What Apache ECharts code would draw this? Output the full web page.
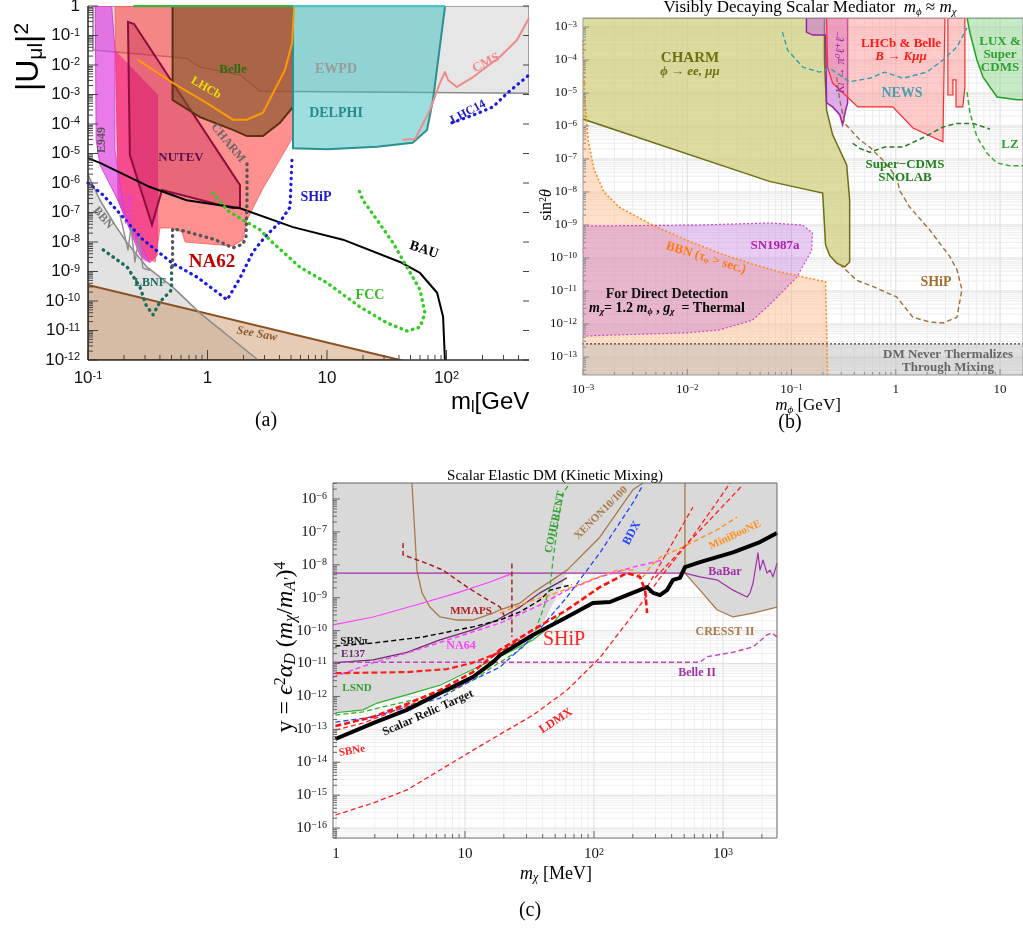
<!DOCTYPE html>
<html><head><meta charset="utf-8">
<script src="https://cdn.jsdelivr.net/npm/echarts@6/dist/echarts.min.js"></script>
<style>html,body{margin:0;padding:0;background:#fff}#c{width:1023px;height:936px}</style>
</head><body><div id="c"></div>
<script>
// ================= Panel (a): |U_mu l|^2 vs m_l [GeV] =================
const aEWPD = [[0.11,1],[0.11,3.2e-2],[0.33,2.2e-2],[0.67,1.7e-2],[0.86,8.5e-3],[1.87,4.6e-3],[2.75,1.3e-3],[490,1.1e-3],[490,1]];
const aBBNregion = [[0.1,1.9e-6],[0.126,2.6e-7],[0.168,3.8e-8],[0.213,9.3e-9],[0.312,1.4e-9],[0.51,3e-10],[0.865,3.9e-11],[2.65,1e-12],[0.1,1e-12]];
const aSeeSaw = [[0.1,3.5e-10],[40.8,1e-12],[0.1,1e-12]];
const aNA62 = [[0.168,1],[5.19,1],[5.19,3.6e-5],[2.86,5.8e-7],[2.14,5.6e-8],[1.98,1.2e-8],[1.63,7.3e-9],[0.65,1e-8],[0.61,2.2e-8],[0.5,3e-8],[0.4,3e-8],[0.364,2.1e-9],[0.288,3.6e-9],[0.178,2.6e-7]];
const aPS191 = [[0.168,3.2e-2],[0.386,9.6e-4],[0.386,3.6e-9],[0.33,1.9e-9],[0.288,2.5e-9],[0.178,2.6e-7]];
const aE949 = [[0.115,1],[0.158,1],[0.168,3.2e-2],[0.168,1.3e-5],[0.204,8.3e-8],[0.33,2.1e-9],[0.272,3.6e-9],[0.178,2.6e-7],[0.126,4.1e-6],[0.117,2.9e-5]];
const aNUTEV = [[0.216,0.29],[0.243,0.245],[1.87,8.5e-7],[1.87,1.5e-7],[1.63,1.4e-7],[0.416,5.8e-7],[0.343,3.8e-8],[0.224,8.9e-6]];
const aBelle = [[0.51,1],[5.19,1],[5.19,3.8e-4],[4.04,1.1e-4],[2.91,3.9e-5],[2.14,3.9e-5],[1.63,6.3e-5],[0.865,1.7e-4],[0.51,6.5e-4]];
const aDELPHI = [[5.19,1],[5.19,1.5e-5],[10,1.4e-5],[26.2,1.7e-5],[52,2.3e-5],[68.7,6.3e-5],[77,6.5e-4],[97,0.92],[97,1]];
const aLHCb = [[0.262,1.5e-2],[0.51,2.5e-3],[0.99,5.1e-4],[1.63,1.4e-4],[2.14,1.4e-4],[2.91,2.4e-4],[3.47,9.6e-4],[4.45,6.8e-3],[5.1,5.6e-2],[5.3,0.92]];
const aCMS = [[43,2.9e-5],[54.5,3.1e-5],[72.8,3e-4],[88.3,2.5e-3],[97,5.8e-3],[103,3.1e-3],[122,1.8e-3],[167,3.9e-3],[280,1.9e-2],[389,7e-2],[490,0.39]];
const aLHC14 = [[111,1.1e-4],[167,2e-4],[245,3.8e-4],[321,1.1e-3],[437,3.1e-3],[490,4.6e-3]];
const aSHiP = [[0.1,1e-6],[0.134,3.9e-7],[0.196,7e-8],[0.288,1.2e-8],[0.51,1.9e-9],[0.817,6.5e-10],[1.46,1.1e-10],[1.87,6e-10],[2.4,4.6e-9],[3.03,1.5e-8],[4.04,4.8e-8],[4.9,1.5e-7],[5.1,7.6e-6]];
const aFCC = [[1.11,4.6e-7],[1.46,1.2e-7],[1.98,5.6e-8],[2.75,2.6e-8],[3.53,9.3e-9],[5.94,1.4e-9],[10,4.1e-10],[18.9,6.3e-11],[31.8,1.8e-11],[46.7,9.6e-12],[60,1.3e-11],[66,3.9e-11],[60,2.4e-10],[46.7,1.4e-9],[35.7,9.3e-9],[26.2,5.6e-8],[20,2.6e-7],[18.2,6.8e-7]];
const aBAU = [[0.1,7e-6],[0.126,4.8e-6],[0.33,7.3e-7],[0.67,2.6e-7],[1.87,1.4e-7],[5.19,3.2e-8],[13.6,1.2e-8],[40.8,2.1e-9],[60,8.9e-10],[83.4,1.9e-10],[93.6,2.9e-11],[97,1e-12]];
const aBBN1 = [[0.1,1.9e-6],[0.126,2.6e-7],[0.168,3.8e-8],[0.213,9.3e-9],[0.312,1.4e-9],[0.51,3e-10],[0.865,3.9e-11],[2.65,1e-12]];
const aBBN2 = [[0.185,8.3e-8],[0.216,5.4e-9],[0.229,3e-8],[0.247,2.1e-9],[0.267,1.4e-8],[0.288,1.3e-9],[0.33,1.1e-9]];
const aLBNF = [[0.134,5.4e-9],[0.213,1.4e-9],[0.272,3e-10],[0.306,7.3e-11],[0.35,3.4e-11],[0.4,9.3e-11],[0.5,2.4e-10],[0.5,1.8e-9]];
const aNA62fut = [[0.51,1.5e-9],[0.51,2.8e-8],[0.624,2.4e-8],[1.16,1.2e-8],[1.63,6.3e-9],[1.98,8.5e-9],[2.1,1.5e-8],[2.14,2.6e-7],[2.14,6e-6]];
const aTopGreen = [[0.24,1],[5.19,1]];
const aTopTeal = [[5.19,1],[97,1]];
const aTickX = [0.1, 1, 10, 100];
const aTickY = [1,1e-1,1e-2,1e-3,1e-4,1e-5,1e-6,1e-7,1e-8,1e-9,1e-10,1e-11,1e-12];

// ================= Panel (b): sin^2 theta vs m_phi [GeV] =================
const bCHARM = [[0.00098,1.9e-3],[0.207,1.9e-3],[0.207,1e-4],[0.217,3e-6],[0.248,5.4e-7],[0.338,6.6e-8],[0.361,5.8e-9],[0.361,7.6e-11],[0.324,5.4e-11],[0.271,7e-11],[0.232,1.2e-10],[0.212,2.5e-10],[0.199,9.3e-9],[0.0614,2.1e-8],[0.00098,1.65e-6]];
const bBBN = [[0.001,4e-4],[1.04e-3,6.2e-6],[1.12e-3,3.8e-7],[1.28e-3,4.7e-8],[1.59e-3,1e-8],[2.22e-3,3.5e-9],[4.6e-3,1e-9],[9.8e-3,3.5e-10],[2.03e-2,1.4e-10],[4.2e-2,6.6e-11],[7.7e-2,3.8e-11],[0.212,1.9e-11],[0.222,2.85e-14]];
const bBBNfill = bBBN.concat([[0.00098,2.85e-14],[0.00098,4e-4]]);
const bSN = [[0.001,9.3e-10],[0.013,1e-9],[0.0614,1.15e-9],[0.128,1e-9],[0.159,5.7e-10],[0.156,1.7e-10],[0.112,2.6e-11],[0.0614,3.8e-12],[0.042,1.3e-12],[0.0203,6.6e-13],[9.8e-3,5.4e-13],[2.22e-3,4.7e-13],[0.001,4.3e-13]];
const bLHCb = [[0.217,1.9e-3],[0.222,6.1e-5],[0.248,2e-5],[0.432,3.8e-6],[0.936,3.8e-6],[1.46,8.7e-7],[2.83,3.3e-7],[2.96,1.9e-3]];
const bLHCb2 = [[3.16,1.9e-3],[3.16,8.7e-6],[3.53,8.7e-6],[3.53,2.5e-5],[3.78,2.5e-5],[3.78,3.8e-6],[4.4,3.8e-6],[4.6,1.5e-5],[4.6,1.9e-3]];
const bKL = [[0.139,1.9e-3],[0.139,7e-4],[0.159,5.7e-4],[0.212,5.7e-4],[0.217,5e-6],[0.248,3.8e-6],[0.29,2.2e-6],[0.309,1.1e-6],[0.33,3e-6],[0.345,5e-6],[0.345,1.9e-3]];
const bLUX = [[4.82,1.9e-3],[5.15,6.6e-4],[6.0,1e-4],[6.87,3e-5],[9.35,7.6e-6],[14.6,6.2e-6],[17,6.2e-6],[17,1.9e-3]];
const bNEWS = [[0.0818,7e-4],[0.0917,2e-4],[0.128,6.1e-5],[0.186,4.3e-5],[0.232,5.7e-5],[0.271,4e-5],[0.361,2.2e-5],[0.562,2.8e-5],[0.783,4.3e-5],[1.17,2.8e-5],[1.99,4.3e-5],[2.83,1e-4],[3.86,2.5e-4],[4.82,9.3e-4]];
const bSCDMS = [[0.386,3e-7],[0.451,2.1e-7],[0.562,1.6e-7],[0.783,2.3e-7],[1.17,2.3e-7],[1.82,4.4e-7],[2.83,9.3e-7],[3.86,1.2e-6],[5.5,1.2e-6],[8.0,8.1e-7]];
const bLZ = [[4.82,1.07e-5],[5.15,2.5e-6],[6.0,4.7e-7],[7.5,1.5e-7],[9.35,7.6e-8],[12.5,6.2e-8],[17,6.2e-8]];
const bSHiP = [[0.271,3e-5],[0.29,6.2e-6],[0.324,1.2e-6],[0.451,3.8e-7],[0.562,2.3e-7],[0.75,9.3e-8],[1.02,2.8e-8],[1.09,1.1e-8],[1.36,3.5e-9],[2.12,7e-10],[3.3,1.1e-10],[3.86,4.4e-11],[4.31,1.1e-11],[3.86,1.6e-12],[2.83,1.07e-12],[2.12,1.15e-12],[1.46,1.6e-12],[1.02,6.6e-12],[0.562,1.5e-11],[0.422,2.1e-11],[0.309,5.4e-11],[0.271,7.6e-11]];
const bDMband = [[0.00098,2.5e-13],[17,2.5e-13],[17,2.85e-14],[0.00098,2.85e-14]];
const bDMline = [[0.00098,2.5e-13],[17,2.5e-13]];
const bTickX = [1e-3, 1e-2, 1e-1, 1, 10];
const bTickY = [1e-3,1e-4,1e-5,1e-6,1e-7,1e-8,1e-9,1e-10,1e-11,1e-12,1e-13];

// ================= Panel (c): y vs m_chi [MeV] =================
const cGray = [[0.948,3.06e-6],[0.948,3.2e-13],[1.45,3.4e-13],[2.08,5.9e-13],[3.95,1.26e-12],[6.4,2.4e-12],[10.4,5.9e-12],[16.5,1.5e-11],[26.7,3.6e-11],[38.1,1.05e-10],[45.6,4.3e-10],[54.5,1.7e-9],[61.8,5.6e-9],[507,5.6e-9],[663,1.7e-9],[898,4.3e-10],[1196,2.6e-10],[1710,3.4e-10],[2622,5.2e-10],[2622,3.06e-6]];
const cXENON = [[3.88,3.06e-6],[4.24,6.9e-9],[4.64,1.4e-9],[5.35,5.2e-10],[6.4,2.6e-10],[8.67,2.1e-10],[11.5,2.1e-10],[16.5,3.4e-10],[18.7,4.3e-10],[26.7,6.9e-10],[33.6,1.4e-9],[61.8,6.9e-9],[111,6.9e-8],[200,1.9e-6],[240,3.06e-6]];
const cCRESST = [[507,3.06e-6],[507,5.6e-9],[663,1.7e-9],[898,4.3e-10],[1196,2.6e-10],[1710,3.4e-10],[2622,5.2e-10]];
const cMMAPS = [[3.31,4.6e-8],[3.31,2e-8],[5.07,1.1e-8],[6.75,6.9e-9],[10.4,2.1e-9],[13.8,1.05e-9],[18.7,5.2e-10],[20.4,2.6e-10]];
const cMMAPSv = [[23.1,1.1e-8],[23.1,6.4e-11]];
const cBaBar = [[0.948,5.6e-9],[507,5.6e-9],[663,4.3e-9],[898,3.5e-9],[1196,1.7e-9],[1535,1.05e-9],[1620,1.4e-9],[1710,2.8e-9],[1867,2.3e-8],[1935,6.9e-9],[2042,1.4e-8],[2193,5.6e-9],[2314,6.9e-9],[2443,4.3e-9],[2622,1.1e-8]];
const cMagenta = [[0.948,1.5e-10],[1.94,2.6e-10],[4.72,6.9e-10],[8.67,1.4e-9],[15.6,3e-9],[23.6,5.6e-9]];
const cSBNpi = [[0.99,3.4e-11],[1.94,4.2e-11],[4.72,6.4e-11],[11.5,1.3e-10],[18.7,2.1e-10],[26.7,3.7e-10],[38.1,8.5e-10],[45.6,1.7e-9],[67.5,2.5e-9]];
const cE137 = [[0.948,1.05e-11],[1.94,1.3e-11],[3.55,2.2e-11],[6.4,5.2e-11],[11.5,1.05e-10],[17.7,2.1e-10],[26.7,5.2e-10],[38.1,1.4e-9],[61.8,4e-9]];
const cBelle2 = [[0.948,1.1e-11],[663,1.1e-11],[751,1.6e-11],[1196,2.2e-11],[1710,3.2e-11],[2193,7.4e-11],[2400,8.5e-11],[2622,6.4e-11]];
const cNA64 = [[0.948,3.9e-12],[1.94,1.05e-11],[3.55,2.1e-11],[8.67,6.4e-11],[18.7,1.7e-10],[38.1,6e-10],[61.8,1.7e-9],[111,4.3e-9],[200,8.5e-9],[343,1.4e-8]];
const cLSND = [[0.99,3.2e-13],[1.62,3.9e-13],[2.08,6.3e-13],[3.95,1.26e-12],[6.4,2.2e-12],[10.4,5.5e-12],[18.7,1.6e-11],[33.6,5.2e-11],[45.6,1.3e-10],[54.5,3e-10]];
const cCOHERENT = [[0.99,2.7e-13],[1.62,3.4e-13],[2.31,4.8e-13],[3.95,7.8e-13],[7.25,1.36e-12],[11.5,3.2e-12],[18.7,1.1e-11],[26.7,2.6e-11],[33.6,6.4e-11],[40.2,4.3e-10],[45.6,2.1e-9],[48.1,1.4e-8],[52.6,1.9e-7],[57.5,1.5e-6],[65.2,3.06e-6]];
const cBDX = [[0.99,1.66e-13],[1.94,2.4e-13],[3.55,4.8e-13],[6.4,8.9e-13],[10.4,2.6e-12],[18.7,7.8e-12],[33.6,6.4e-11],[61.8,1.05e-9],[111,2.3e-8],[200,7.6e-7],[240,2.7e-6]];
const cSBNe = [[0.99,9.5e-14],[1.62,1.55e-13],[2.62,3.2e-13],[4.72,7.8e-13],[8.67,1.9e-12],[13.1,5.1e-12]];
const cRelic = [[0.99,5.1e-14],[1.94,1.55e-13],[3.55,3.9e-13],[6.4,1.26e-12],[11.5,3.9e-12],[16.5,1.1e-11],[18.7,1.8e-11],[33.6,7.4e-11],[61.8,2.6e-10],[98,6.9e-10],[133,7.4e-10],[180,1.2e-9],[258,2.1e-9],[287,1.4e-9],[325,1.2e-9],[368,1.7e-9],[410,3.5e-9],[464,4e-9],[507,8.5e-9],[663,1.2e-8],[1196,2.4e-8],[1935,4.9e-8],[2622,9.3e-8]];
const cSHiP = [[0.99,1.26e-13],[1.94,2.4e-13],[3.55,5.9e-13],[6.4,1.56e-12],[11.5,5.5e-12],[18.7,2.6e-11],[33.6,1.05e-10],[61.8,4.3e-10],[111,2.1e-9],[180,5.6e-9],[227,4.3e-9],[249,1.7e-9],[258,3.4e-10]];
const cLDMX = [[0.99,2.5e-16],[1.94,5.8e-16],[3.55,1.44e-15],[6.4,5.8e-15],[11.5,2.3e-14],[21.2,9.5e-14],[33.6,2.7e-13],[61.8,1.56e-12],[111,1.5e-11],[200,3e-10],[325,4e-9],[555,5.6e-8],[867,6.6e-7],[1133,3.06e-6]];
const cMiniBooNE = [[18.7,3.4e-10],[33.6,8.5e-10],[45.6,1.2e-9],[82,2.8e-9],[151,6.9e-9],[200,6.9e-9],[240,4.3e-9],[272,8.5e-9],[325,1.7e-8],[490,3.5e-8],[898,1.15e-7],[1285,2.8e-7]];
const cRed1 = [[258,2.1e-9],[585,5.7e-7]];
const cRed2 = [[297,4e-9],[1429,2.7e-6]];
const cRedFlat = [[0.99,5.1e-12],[3.55,5.5e-12],[7.25,6.8e-12],[11.5,1.05e-11],[18.7,2.2e-11],[26.7,5.2e-11]];
const cTickX = [1, 10, 100, 1000];
const cTickY = [1e-6,1e-7,1e-8,1e-9,1e-10,1e-11,1e-12,1e-13,1e-14,1e-15,1e-16];

// ---------------- helpers ----------------
const FS = '"Liberation Serif","DejaVu Serif",serif';
const FA = '"Liberation Sans",Arial,sans-serif';
function minors(lo, hi){ const o=[]; for(let e=lo;e<hi;e++){ for(let m=2;m<=9;m++) o.push(m*Math.pow(10,e)); } return o; }

function region(gi, pts, fill, stroke, lw, dash, z){
  return {type:'custom', xAxisIndex:gi, yAxisIndex:gi, data:pts, clip:true, silent:true, z:z||2, animation:false,
    renderItem:function(params, api){
      if (params.dataIndex!==0) return null;
      return {type:'polygon', shape:{points:pts.map(p=>api.coord(p))},
        style:{fill:fill, stroke:stroke||null, lineWidth:lw||0, lineDash:dash||null}};
    }};
}
function curve(gi, pts, color, width, type, z, cap){
  return {type:'line', xAxisIndex:gi, yAxisIndex:gi, data:pts, symbol:'none', showSymbol:false, silent:true, clip:true,
    z:z||3, animation:false, lineStyle:{color:color, width:width, type:type||'solid', cap:cap||'butt', join:'round'}};
}
function expText(v, minus){
  const r=Math.round(Math.log10(v));
  if(r===0) return '{n|1}'; if(r===1) return '{n|10}';
  return '{n|10}{s|'+(r<0?minus+(-r):r)+'}';
}
// decorations: grid lines, ticks, frame and tick labels, placed with the axes' own scales
function decor(gi, ref, o){
  return {type:'custom', xAxisIndex:gi, yAxisIndex:gi, data:[ref], silent:true, clip:false, z:o.z||1, animation:false,
    renderItem:function(params, api){
      const cs=params.coordSys, ch=[];
      const L=cs.x, R=cs.x+cs.width, T=cs.y, B=cs.y+cs.height;
      const X=v=>api.coord([v,ref[1]])[0], Y=v=>api.coord([ref[0],v])[1];
      const ln=(x1,y1,x2,y2,c,w)=>ch.push({type:'line',shape:{x1,y1,x2,y2},style:{stroke:c,lineWidth:w||1}});
      if(o.gridX) o.gridX.forEach(v=>{const x=X(v); if(x>L+0.5&&x<R-0.5) ln(x,T,x,B,o.gridC);});
      if(o.gridY) o.gridY.forEach(v=>{const y=Y(v); if(y>T+0.5&&y<B-0.5) ln(L,y,R,y,o.gridC);});
      if(o.minX) o.minX.forEach(v=>{const x=X(v); if(x>=L&&x<=R){ ln(x,B,x,B-o.tMin,o.tc); if(o.top) ln(x,T,x,T+o.tMin,o.tc);} });
      if(o.minY) o.minY.forEach(v=>{const y=Y(v); if(y>=T&&y<=B){ ln(L,y,L+o.tMin,y,o.tc); if(o.right) ln(R,y,R-o.tMin,y,o.tc);} });
      if(o.majX) o.majX.forEach(v=>{const x=X(v); if(x>=L-0.5&&x<=R+0.5){ ln(x,B,x,B-o.tMaj,o.tc); if(o.top) ln(x,T,x,T+o.tMaj,o.tc);
          if(o.lab) ch.push({type:'text',x:x,y:B+o.lab.xm,style:{text:expText(v,o.lab.minus),rich:o.lab.rich,align:'center',verticalAlign:'top'}}); } });
      if(o.majY) o.majY.forEach(v=>{const y=Y(v); if(y>=T-0.5&&y<=B+0.5){ ln(L,y,L+o.tMaj,y,o.tc); if(o.right||o.rightMaj) ln(R,y,R-(o.rightMaj||o.tMaj),y,o.tc);
          if(o.lab) ch.push({type:'text',x:L-o.lab.ym,y:y,style:{text:expText(v,o.lab.minus),rich:o.lab.rich,align:'right',verticalAlign:'middle'}}); } });
      if(o.frame) ch.push({type:'rect',shape:{x:L,y:T,width:cs.width,height:cs.height},style:{fill:null,stroke:o.frame,lineWidth:o.frameW||1}});
      if(o.axes){ ln(L,T,L,B,o.axes,1.6); ln(L,B,R,B,o.axes,1.6); }
      return {type:'group',children:ch};
    }};
}
function labRich(font, fs, ss){
  return {n:{fontFamily:font, fontSize:fs, fill:'#111', lineHeight:fs},
          s:{fontFamily:font, fontSize:ss, fill:'#111', verticalAlign:'top', lineHeight:ss, padding:[0,0,Math.round(fs*0.42),0]}};
}
function logAxis(gi, min, max){
  return {gridIndex:gi, type:'log', logBase:10, min:min, max:max,
    axisLine:{show:false}, axisTick:{show:false}, axisLabel:{show:false}, splitLine:{show:false}};
}
function T(x, y, text, o){
  o=o||{};
  return {type:'text', x:x, y:y, rotation:(o.rot||0)*Math.PI/180, z:100, silent:true,
    style:{text:text, fill:o.color||'#000', font:o.font||('bold 13px '+FS), textAlign:o.align||'center', textVerticalAlign:'middle',
      align:o.align||'center', verticalAlign:'middle', rich:o.rich}};
}
function rs(fs, ff, extra){
  const base={fontFamily:ff, fontSize:fs, fill:'#000', color:'#000'};
  const r={r:Object.assign({},base), i:Object.assign({},base,{fontStyle:'italic'}),
    b:Object.assign({},base,{fontSize:Math.round(fs*0.65), verticalAlign:'bottom', lineHeight:fs*1.1}),
    bi:Object.assign({},base,{fontStyle:'italic', fontSize:Math.round(fs*0.65), verticalAlign:'bottom', lineHeight:fs*1.1}),
    p:Object.assign({},base,{fontSize:Math.round(fs*0.65), verticalAlign:'top', lineHeight:fs*1.1, padding:[0,0,Math.round(fs*0.4),0]})};
  if(extra) Object.keys(r).forEach(k=>Object.assign(r[k],extra));
  return r;
}

const chart = echarts.init(document.getElementById('c'), null, {renderer:'canvas', width:1023, height:936});

const grids = [
  {left:88, top:6, width:441, height:354},
  {left:583, top:18, width:440, height:357},
  {left:333, top:483, width:444, height:355}
];
const xAxes = [logAxis(0, 0.1, 490), logAxis(1, 1e-3, 16.6), logAxis(2, 0.948, 2622)];
const yAxes = [logAxis(0, 1e-12, 1), logAxis(1, 2.85e-14, 1.875e-3), logAxis(2, 5.0e-17, 3.06e-6)];

const dotA = [0.5,5.5];
const series = [
  // ---- (a) ----
  region(0, aEWPD, '#e6e6e6', '#8a8a8a', 1.5, null, 1),
  region(0, aBBNregion, '#e2e2e2', null, 0, null, 1),
  region(0, aSeeSaw, 'rgba(200,140,90,0.45)', '#8b5020', 2, null, 2),
  region(0, aNA62, 'rgba(255,70,70,0.6)', 'rgba(255,90,90,0.8)', 1, null, 2),
  region(0, aPS191, 'rgba(240,30,140,0.6)', null, 0, null, 2),
  region(0, aE949, 'rgba(225,70,225,0.72)', 'rgba(210,60,210,0.9)', 1, null, 2),
  region(0, aNUTEV, 'rgba(190,30,80,0.35)', '#8a0f3c', 2, null, 2),
  region(0, aBelle, 'rgba(125,80,35,0.62)', '#5a3010', 2, null, 2),
  region(0, aDELPHI, 'rgba(60,190,190,0.5)', '#2a9090', 2, null, 2),
  curve(0, aBBN1, '#8c8c8c', 1.6),
  curve(0, aBBN2, '#8c8c8c', 1.4),
  curve(0, aLHCb, '#ff9900', 2),
  curve(0, aCMS, '#f08a8a', 2),
  curve(0, aBAU, '#000', 2),
  curve(0, aLHC14, '#1a1ae0', 3.2, dotA, 4, 'round'),
  curve(0, aSHiP, '#1a1ae0', 3.2, dotA, 4, 'round'),
  curve(0, aFCC, '#33cc22', 3.4, dotA, 4, 'round'),
  curve(0, aLBNF, '#1d6b5e', 3.4, dotA, 4, 'round'),
  curve(0, aNA62fut, '#555', 3.4, dotA, 4, 'round'),
  curve(0, aTopGreen, '#40b040', 2.5),
  curve(0, aTopTeal, '#50c0c0', 2.5),
  decor(0, [0.1,1e-12], {minX:minors(-1,3), minY:minors(-12,0), majX:aTickX, majY:aTickY, tMin:5, tMaj:10, tc:'#444', rightMaj:6,
     axes:'#333', lab:{xm:10, ym:8, minus:'-', rich:labRich(FA,17,11)}, z:5}),
  // ---- (b) ----
  decor(1, [1e-3,1e-13], {gridX:minors(-3,2), gridY:minors(-14,-2), gridC:'#ececec', z:0}),
  decor(1, [1e-3,1e-13], {gridX:bTickX, gridY:bTickY, gridC:'#dcdcdc', z:0}),
  region(1, bBBNfill, 'rgba(255,185,130,0.45)', null, 0, null, 1),
  region(1, bSN, 'rgba(190,110,220,0.35)', '#cc44cc', 1.2, [2,2], 2),
  region(1, bCHARM, 'rgba(205,205,120,0.7)', '#6e6e12', 1.5, null, 2),
  region(1, bKL, 'rgba(200,110,215,0.55)', '#9a22aa', 1.5, null, 2),
  region(1, bLHCb, 'rgba(255,140,140,0.45)', '#ff2a2a', 1.2, null, 2),
  region(1, bLHCb2, 'rgba(255,140,140,0.45)', '#ff2a2a', 1.2, null, 2),
  region(1, bLUX, 'rgba(130,210,130,0.45)', '#22a022', 1.5, null, 2),
  region(1, bDMband, 'rgba(185,185,185,0.45)', null, 0, null, 2),
  curve(1, bBBN, '#ff8c1a', 1.6, [2,2]),
  curve(1, bDMline, '#333', 1.2, [2,2]),
  curve(1, bNEWS, '#30a0b0', 1.4, [5,3]),
  curve(1, bSCDMS, '#207f20', 1.5, [5,3]),
  curve(1, bLZ, '#33b033', 1.5, [5,3]),
  curve(1, bSHiP, '#a0703a', 1.4, [5,3]),
  decor(1, [1e-3,1e-13], {minX:minors(-3,2), minY:minors(-14,-2), majX:bTickX, majY:bTickY, tMin:3, tMaj:6, tc:'#888',
     frame:'#999', lab:{xm:8, ym:6, minus:'\u2212', rich:labRich(FS,13,9)}, z:6}),
  // ---- (c) ----
  decor(2, [1,1e-10], {gridX:minors(0,4), gridY:minors(-17,-5), gridC:'#efefef', z:0}),
  decor(2, [1,1e-10], {gridX:cTickX, gridY:cTickY, gridC:'#e0e0e0', z:0}),
  region(2, cGray, '#d9d9d9', null, 0, null, 1),
  curve(2, cXENON, '#a87a4a', 1.3),
  curve(2, cCRESST, '#a87a4a', 1.3),
  curve(2, cBaBar, '#a030a8', 1.2),
  curve(2, cMagenta, '#ff40ff', 1.2),
  curve(2, cE137, '#6a2a6a', 1.3),
  curve(2, cLSND, '#30b030', 1.2),
  curve(2, cMMAPS, '#a01818', 1.4, [5,3]),
  curve(2, cMMAPSv, '#a01818', 1.4, [5,3]),
  curve(2, cSBNpi, '#000', 1.4, [5,3]),
  curve(2, cBelle2, '#c040c0', 1.4, [5,3]),
  curve(2, cNA64, '#ff40ff', 1.5, [5,3]),
  curve(2, cCOHERENT, '#30b030', 1.3, [5,3]),
  curve(2, cBDX, '#2244ff', 1.3, [5,3]),
  curve(2, cSBNe, '#ff2020', 1.3, [5,3]),
  curve(2, cRedFlat, '#ff2020', 2.2, [6,3]),
  curve(2, cLDMX, '#ff2020', 1.3, [5,3]),
  curve(2, cMiniBooNE, '#ff9020', 1.4, [5,3]),
  curve(2, cRed1, '#ff2020', 1.3, [5,3]),
  curve(2, cRed2, '#ff2020', 1.3, [5,3]),
  curve(2, cRelic, '#000', 4, 'solid', 4),
  curve(2, cSHiP, '#ff1010', 2.6, [6,3], 5),
  decor(2, [1,1e-10], {minX:minors(0,4), minY:minors(-17,-5), majX:cTickX, majY:cTickY, tMin:4, tMaj:7, tc:'#666',
     frame:'#666', lab:{xm:9, ym:6, minus:'\u2212', rich:labRich(FS,15,10)}, z:6})
];

const rA = rs(32, FA);
const rAx = rs(24, FA);
const rB = rs(16, FS);
const rC = rs(24, FS);
const rT = rs(17, FS);
const graphic = [
  // (a)
  T(29, 57, '{r||U}{b|μl}{r||}{p|2}', {rot:90, rich:rA}),
  T(451, 402, '{r|m}{b|l}{r|[GeV}', {align:'left', rich:rAx}),
  T(266, 421, '(a)', {font:'20px '+FS}),
  T(233, 70, 'Belle', {color:'#2d6b12'}),
  T(206, 88, 'LHCb', {color:'#eee000', rot:-30, font:'bold 12px '+FS}),
  T(336, 69, 'EWPD', {color:'#9a9a9a', font:'bold 14px '+FS}),
  T(336, 113, 'DELPHI', {color:'#2a8a8a', font:'bold 14px '+FS}),
  T(486, 63, 'CMS', {color:'#f08a8a', rot:27, font:'bold 13px '+FS}),
  T(468, 112, 'LHC14', {color:'#1a1ad0', rot:28, font:'bold 12px '+FS}),
  T(102, 140, 'E949', {color:'#555', rot:90, font:'bold 12px '+FS}),
  T(128, 210, 'PS191', {color:'#e040e0', rot:-90, font:'bold 11px '+FS}),
  T(228, 143, 'CHARM', {color:'#666', rot:-50, font:'bold 12px '+FS}),
  T(181, 158, 'NUTEV', {color:'#5a1050'}),
  T(316, 197, 'SHiP', {color:'#1a1ad0', font:'bold 14px '+FS}),
  T(212, 262, 'NA62', {color:'#c00000', font:'bold 19px '+FS}),
  T(103, 218, 'BBN', {color:'#777', rot:-50, font:'bold 12px '+FS}),
  T(150, 283, 'LBNF', {color:'#1d6b5e', font:'bold 12px '+FS}),
  T(257, 334, 'See Saw', {color:'#8b5a2b', rot:-10, font:'italic bold 12px '+FS}),
  T(424, 250, 'BAU', {color:'#000', rot:-18, font:'bold 14px '+FS}),
  T(370, 295, 'FCC', {color:'#33bb22', font:'bold 14px '+FS}),
  // (b)
  T(810, 8, '{r|Visibly Decaying Scalar Mediator  }{i|m}{bi|ϕ}{r| ≈ }{i|m}{bi|χ}', {rich:rT}),
  T(547, 205, '{r|sin}{p|2}{i|θ}', {rot:90, rich:rB}),
  T(808, 406, '{i|m}{bi|ϕ}{r| [GeV]}', {rich:rs(17, FS)}),
  T(790, 423, '(b)', {font:'20px '+FS}),
  T(690, 58, 'CHARM', {color:'#707010', font:'bold 15px '+FS}),
  T(690, 72, 'ϕ → ee, μμ', {color:'#707010', font:'italic bold 13px '+FS}),
  T(901, 44, 'LHCb & Belle', {color:'#ff1a1a', font:'bold 13px '+FS}),
  T(901, 57, 'B → Kμμ', {color:'#ff1a1a', font:'italic bold 13px '+FS}),
  T(902, 93, 'NEWS', {color:'#40a0b0', font:'bold 14px '+FS}),
  T(1000, 42, 'LUX &', {color:'#30a030', font:'bold 13px '+FS}),
  T(1000, 55, 'Super', {color:'#30a030', font:'bold 13px '+FS}),
  T(1000, 68, 'CDMS', {color:'#30a030', font:'bold 13px '+FS}),
  T(841, 62, 'K\u2097 → π⁰ℓ⁺ℓ⁻', {color:'#9a22aa', rot:90, font:'italic 12px '+FS}),
  T(1010, 145, 'LZ', {color:'#30a030', font:'bold 13px '+FS}),
  T(905, 165, 'Super−CDMS', {color:'#208020', font:'bold 13px '+FS}),
  T(905, 178, 'SNOLAB', {color:'#208020', font:'bold 13px '+FS}),
  T(936, 282, 'SHiP', {color:'#a07030', font:'bold 14px '+FS}),
  T(775, 246, 'SN1987a', {color:'#b020b0', font:'bold 13px '+FS}),
  T(706, 258, 'BBN (τ\u1D69 > sec.)', {color:'#ff7a10', rot:-17, font:'bold 13px '+FS}),
  T(667, 294, 'For Direct Detection', {color:'#111', font:'bold 14px '+FS}),
  T(667, 308, '{i|m}{bi|χ}{r|= 1.2 }{i|m}{bi|ϕ}{r| , }{i|g}{bi|χ}{r|  = Thermal}', {rich:rs(14, FS, {fontWeight:'bold'})}),
  T(948, 355, 'DM Never Thermalizes', {color:'#666', font:'bold 13px '+FS}),
  T(948, 368, 'Through Mixing', {color:'#666', font:'bold 13px '+FS}),
  // (c)
  T(555, 476, 'Scalar Elastic DM (Kinetic Mixing)', {font:'15px '+FS}),
  T(286, 647, '{r|y = }{i|ϵ}{p|2}{i|α}{bi|D}{r| (}{i|m}{bi|χ}{r|/}{i|m}{bi|A′}{r|)}{p|4}', {rot:90, rich:rC}),
  T(556, 874, '{i|m}{bi|χ}{r| [MeV]}', {rich:rs(18, FS)}),
  T(530, 911, '(c)', {font:'20px '+FS}),
  T(354, 641, 'SBNπ', {color:'#111', font:'bold 11px '+FS}),
  T(353, 654, 'E137', {color:'#6a2a6a', font:'bold 11px '+FS}),
  T(461, 646, 'NA64', {color:'#ff40ff', font:'bold 12px '+FS}),
  T(357, 688, 'LSND', {color:'#30a030', font:'bold 11px '+FS}),
  T(352, 751, 'SBNe', {color:'#ff2020', rot:10, font:'bold 11px '+FS}),
  T(428, 713, 'Scalar Relic Target', {color:'#111', rot:24, font:'bold 12px '+FS}),
  T(471, 611, 'MMAPS', {color:'#b02020', font:'bold 11px '+FS}),
  T(555, 522, 'COHERENT', {color:'#30a030', rot:78, font:'bold 11px '+FS}),
  T(601, 513, 'XENON10/100', {color:'#a87a4a', rot:45, font:'bold 11px '+FS}),
  T(632, 533, 'BDX', {color:'#2244ff', rot:62, font:'bold 12px '+FS}),
  T(735, 535, 'MiniBooNE', {color:'#ff9020', rot:25, font:'bold 11px '+FS}),
  T(725, 572, 'BaBar', {color:'#a030a8', font:'bold 12px '+FS}),
  T(725, 632, 'CRESST II', {color:'#a87a4a', font:'bold 12px '+FS}),
  T(697, 673, 'Belle II', {color:'#a030a8', font:'bold 12px '+FS}),
  T(564, 640, 'SHiP', {color:'#ff2020', font:'20px '+FS}),
  T(556, 721, 'LDMX', {color:'#ff2020', rot:33, font:'bold 12px '+FS})
];

chart.setOption({
  animation:false,
  backgroundColor:'#fff',
  grid:grids,
  xAxis:xAxes,
  yAxis:yAxes,
  series:series,
  graphic:graphic
});
</script></body></html>
